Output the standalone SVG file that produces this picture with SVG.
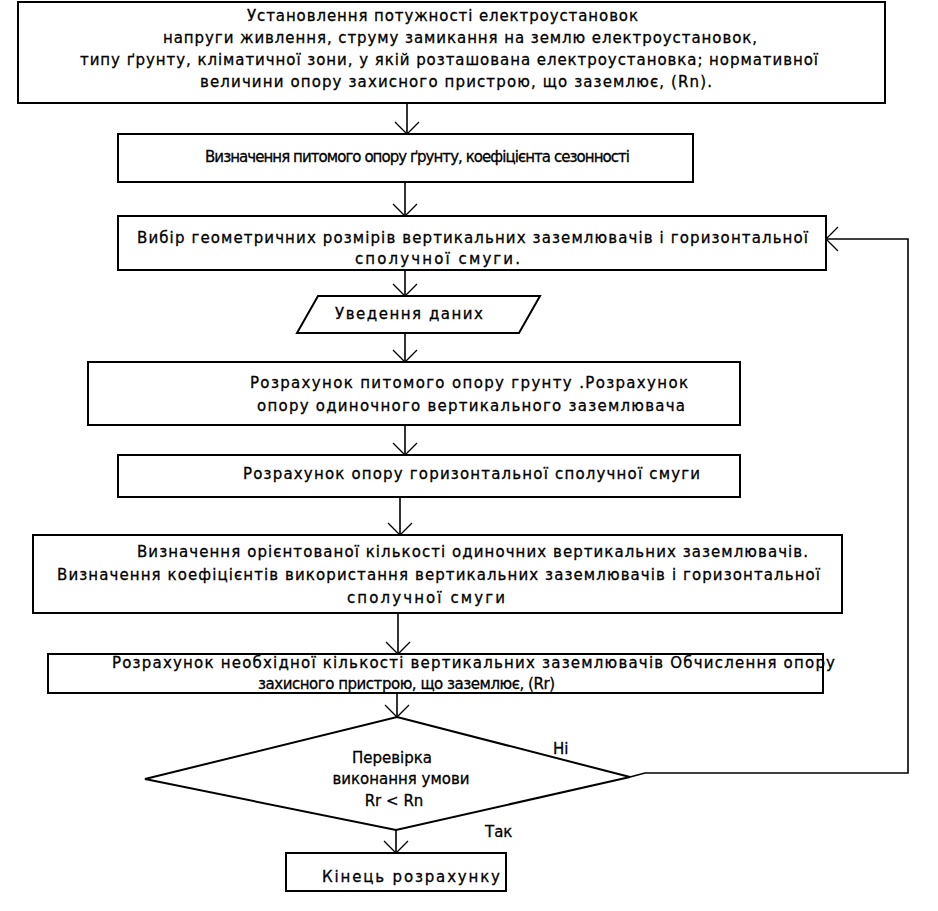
<svg xmlns="http://www.w3.org/2000/svg" width="938" height="911" viewBox="0 0 938 911">
<defs>
<style>
.b{fill:#fff;stroke:#000;stroke-width:2}
.t{font-family:"DejaVu Sans","Liberation Sans",Arial,sans-serif;font-size:15px;fill:#000;stroke:#000;stroke-width:0.3}
.c{fill:none;stroke:#000;stroke-width:1.6}
</style>
<marker id="a" markerUnits="userSpaceOnUse" markerWidth="30" markerHeight="30" viewBox="-15 -15 30 30" refX="0" refY="0" orient="auto">
<path d="M-12,-12 L0,0 L-12,12" fill="none" stroke="#000" stroke-width="1.3"/>
</marker>
</defs>
<rect width="938" height="911" fill="#fff"/>
<g id="connectors">
<line class="c" x1="407" y1="103" x2="407" y2="134" marker-end="url(#a)"/>
<line class="c" x1="405" y1="182" x2="405" y2="216" marker-end="url(#a)"/>
<line class="c" x1="405" y1="270" x2="405" y2="296" marker-end="url(#a)"/>
<line class="c" x1="405" y1="333" x2="405" y2="362" marker-end="url(#a)"/>
<line class="c" x1="405" y1="425" x2="405" y2="455" marker-end="url(#a)"/>
<line class="c" x1="400" y1="497" x2="400" y2="535" marker-end="url(#a)"/>
<line class="c" x1="398" y1="613" x2="398" y2="654" marker-end="url(#a)"/>
<line class="c" x1="397" y1="693" x2="397" y2="717" marker-end="url(#a)"/>
<line class="c" x1="396" y1="830" x2="396" y2="853" marker-end="url(#a)"/>
<polyline class="c" points="630,777 645,773 908,773 908,239 826,239" marker-end="url(#a)"/>
<text class="t" x="553" y="754">Ні</text>
<text class="t" x="485" y="837">Так</text>
</g>
<g id="n1">
<rect class="b" x="18" y="2" width="867" height="101"/>
<text class="t" x="247" y="21" textLength="391">Установлення потужності електроустановок</text>
<text class="t" x="163" y="43" textLength="594">напруги живлення, струму замикання на землю електроустановок,</text>
<text class="t" x="80" y="65" textLength="738">типу ґрунту, кліматичної зони, у якій розташована електроустановка; нормативної</text>
<text class="t" x="200" y="87" textLength="512">величини опору захисного пристрою, що заземлює, (Rn).</text>
</g>
<g id="n2">
<rect class="b" x="118" y="134" width="575" height="48"/>
<text class="t" x="205" y="162" textLength="425">Визначення питомого опору ґрунту, коефіцієнта сезонності</text>
</g>
<g id="n3">
<rect class="b" x="118" y="216" width="708" height="54"/>
<text class="t" x="137" y="243" textLength="671">Вибір геометричних розмірів вертикальних заземлювачів і горизонтальної</text>
<text class="t" x="355" y="264" textLength="165">сполучної смуги.</text>
</g>
<g id="n4">
<polygon class="b" points="318,296 540,296 519,333 297,333"/>
<text class="t" x="335" y="319" textLength="148">Уведення даних</text>
</g>
<g id="n5">
<rect class="b" x="88" y="362" width="652" height="63"/>
<text class="t" x="250" y="388" textLength="438">Розрахунок питомого опору грунту .Розрахунок</text>
<text class="t" x="257" y="411" textLength="428">опору одиночного вертикального  заземлювача</text>
</g>
<g id="n6">
<rect class="b" x="118" y="455" width="622" height="42"/>
<text class="t" x="243" y="479" textLength="457">Розрахунок опору горизонтальної сполучної смуги</text>
</g>
<g id="n7">
<rect class="b" x="33" y="535" width="809" height="78"/>
<text class="t" x="137" y="557" textLength="671">Визначення орієнтованої кількості одиночних вертикальних заземлювачів.</text>
<text class="t" x="57" y="580" textLength="763">Визначення коефіцієнтів використання вертикальних заземлювачів і горизонтальної</text>
<text class="t" x="347" y="603" textLength="158">сполучної смуги</text>
</g>
<g id="n8">
<rect class="b" x="48" y="654" width="775" height="39"/>
<text class="t" x="112" y="668" textLength="723">Розрахунок необхідної кількості вертикальних заземлювачів Обчислення опору</text>
<text class="t" x="258" y="689" textLength="297">захисного пристрою, що заземлює, (Rr)</text>
</g>
<g id="n9">
<polygon class="b" points="397,717 630,777 396,830 145,779"/>
<text class="t" x="392" y="763" text-anchor="middle">Перевірка</text>
<text class="t" x="401" y="784" text-anchor="middle">виконання умови</text>
<text class="t" x="394" y="806" text-anchor="middle">Rr &lt; Rn</text>
</g>
<g id="n10">
<rect class="b" x="286" y="853" width="220" height="38"/>
<text class="t" x="322" y="882" textLength="178">Кінець розрахунку</text>
</g>
</svg>
